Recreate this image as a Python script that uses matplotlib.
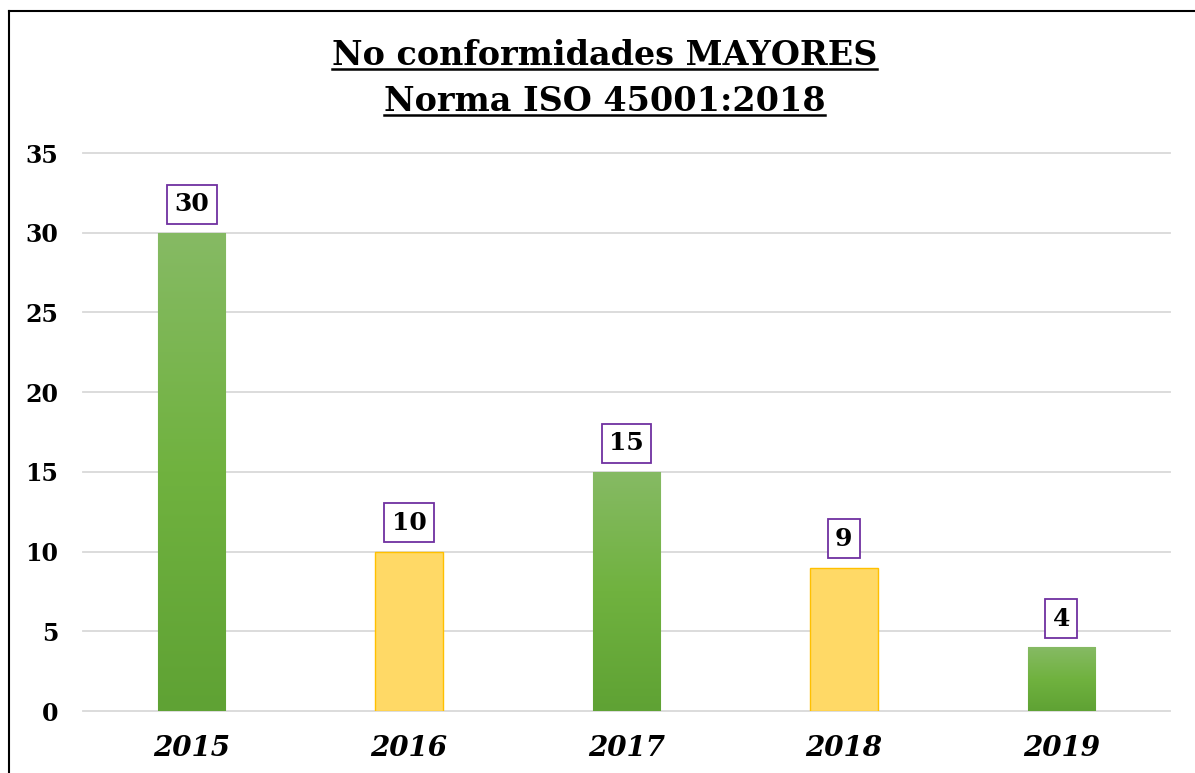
import numpy as np
import matplotlib
matplotlib.use("Agg")
from matplotlib import pyplot as plt
from matplotlib.lines import Line2D

# data
years = ["2015", "2016", "2017", "2018", "2019"]
values = [30, 10, 15, 9, 4]
kinds = ["green", "yellow", "green", "yellow", "green"]
title1 = "No conformidades MAYORES"
title2 = "Norma ISO 45001:2018"

plt.rcParams['font.family'] = ['DejaVu Serif']

fig = plt.figure(figsize=(11.95, 7.73), dpi=100)
ax = fig.add_axes([0.0695, 0.0802, 0.9095, 0.7218])

x = np.arange(len(years))
bars = ax.bar(x, values, width=0.31, zorder=2)

# green gradient: light at top, darker at bottom
grad = np.linspace(0, 1, 256).reshape(-1, 1)
cmap = matplotlib.colors.LinearSegmentedColormap.from_list("g", ["#5fa234", "#70b23f", "#86ba64"])
for b, k in zip(bars, kinds):
    if k == "yellow":
        b.set_facecolor("#ffd966")
        b.set_edgecolor("#ffc000")
        b.set_linewidth(1.0)
    else:
        b.set_facecolor("#70ad47")
        b.set_edgecolor("#8cc26a")
        b.set_linewidth(0.8)
        x0, w, h = b.get_x(), b.get_width(), b.get_height()
        im = ax.imshow(grad, cmap=cmap, aspect="auto", origin="lower",
                       extent=[x0, x0 + w, 0, h], zorder=2.1)
        im.set_clip_path(b)

for xi, v in zip(x, values):
    ax.annotate(str(v), (xi, v), xytext=(0, 12), textcoords="offset points",
                ha="center", va="bottom", fontsize=18, fontweight="bold",
                bbox=dict(boxstyle="square,pad=0.3", fc="white", ec="#7030a0", lw=1.3),
                zorder=4)

ax.set_xlim(-0.5, len(years) - 0.5)
ax.set_ylim(0, 35)
ax.set_yticks(range(0, 36, 5))
ax.set_xticks(x)
ax.set_xticklabels(years, fontsize=20, fontweight="bold", fontstyle="italic")
for t in ax.get_yticklabels():
    t.set_fontsize(17)
    t.set_fontweight("bold")
ax.tick_params(length=0)
ax.tick_params(axis="y", pad=18)
ax.tick_params(axis="x", pad=17)
ax.yaxis.grid(True, color="#d9d9d9", lw=1.3, zorder=0)
for gl in ax.get_ygridlines():
    gl.set_clip_on(False)
ax.set_axisbelow(True)
for s in ax.spines.values():
    s.set_visible(False)

# title with underline
t1 = fig.text(0.506, 0.928, title1, ha="center", va="center", fontsize=24, fontweight="bold")
t2 = fig.text(0.506, 0.869, title2, ha="center", va="center", fontsize=24, fontweight="bold")
fig.canvas.draw()
r = fig.canvas.get_renderer()
for t in (t1, t2):
    bb = t.get_window_extent(r).transformed(fig.transFigure.inverted())
    yline = bb.y0 + 0.004
    fig.add_artist(Line2D([bb.x0, bb.x1], [yline, yline], color="black", lw=1.8,
                          transform=fig.transFigure))

# chart frame (top and left edge)
fig.add_artist(Line2D([0.0075, 0.999], [0.986, 0.986], color="black", lw=1.5, transform=fig.transFigure))
fig.add_artist(Line2D([0.0075, 0.0075], [0.0, 0.986], color="black", lw=1.5, transform=fig.transFigure))

fig.savefig("out.png", dpi=100)
